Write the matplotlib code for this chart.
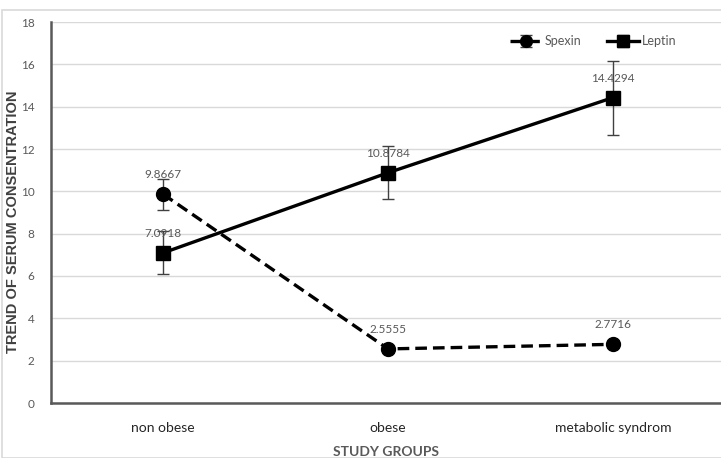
import matplotlib
matplotlib.use("Agg")
import matplotlib.pyplot as plt
from matplotlib.patches import Rectangle

categories = ["non obese", "obese", "metabolic syndrom"]
spexin = [9.8667, 2.5555, 2.7716]
spexin_err = [0.73, 0.0, 0.0]
leptin = [7.0918, 10.8784, 14.4294]
leptin_err = [1.02, 1.25, 1.75]
yticks = [0, 2, 4, 6, 8, 10, 12, 14, 16, 18]

W, H = 721, 458
fig = plt.figure(figsize=(W / 100, H / 100), dpi=100)
fig.patch.set_facecolor("white")
fig.patches.append(Rectangle((2 / W, 0), 1, 1 - 10 / H, transform=fig.transFigure,
                             fill=False, edgecolor="#d9d9d9", linewidth=1.2, zorder=0))

ax = fig.add_axes([51 / W, (H - 403) / H, (W - 51) / W, (403 - 22) / H])
x = list(range(len(categories)))

ax.errorbar(x, spexin, yerr=spexin_err, color="black", linestyle=(0, (3.5, 1.8)),
            linewidth=2.4, marker="o", markersize=10, ecolor="#404040",
            elinewidth=1, capsize=4, capthick=1, label="Spexin", zorder=3)
ax.errorbar(x, leptin, yerr=leptin_err, color="black", linestyle="-",
            linewidth=2.4, marker="s", markersize=10, ecolor="#404040",
            elinewidth=1, capsize=4, capthick=1, label="Leptin", zorder=3)

for xi, v in zip(x, spexin):
    ax.annotate(f"{v:.4f}", (xi, v), xytext=(0, 10), textcoords="offset points",
                ha="center", va="bottom", fontsize=8.5, color="#595959",
                family="Lato", zorder=4)
for xi, v in zip(x, leptin):
    ax.annotate(f"{v:.4f}", (xi, v), xytext=(0, 10), textcoords="offset points",
                ha="center", va="bottom", fontsize=8.5, color="#595959",
                family="Lato", zorder=4)

ax.set_xlim(-0.498, 2.48)
ax.set_ylim(0, 18)
ax.set_yticks(yticks)
ax.set_yticklabels([str(t) for t in yticks], fontsize=8.5, color="#595959", family="Lato")
ax.set_xticks(x)
ax.set_xticklabels(categories, fontsize=10, color="#262626", family="Lato")
ax.tick_params(axis="both", length=0)
ax.tick_params(axis="y", pad=12)
ax.tick_params(axis="x", pad=14)
ax.grid(axis="y", color="#d9d9d9", linewidth=1)
ax.set_axisbelow(True)
for s in ["top", "right"]:
    ax.spines[s].set_visible(False)
for s in ["left", "bottom"]:
    ax.spines[s].set_color("#595959")
    ax.spines[s].set_linewidth(1.8)

ax.set_ylabel("TREND OF SERUM CONSENTRATION", fontsize=10.5, fontweight="bold",
              color="#404040", family="Liberation Sans")
ax.yaxis.set_label_coords(-0.046, 0.475)
ax.set_xlabel("STUDY GROUPS", fontsize=10, fontweight="bold", color="#595959",
              family="Lato", labelpad=8)

leg = ax.legend(loc="upper right", bbox_to_anchor=(0.95, 0.995), ncol=2, frameon=False,
                handlelength=2.6, markerscale=0.85, columnspacing=2.0,
                handletextpad=0.2, prop={"family": "Lato", "size": 9})
for t in leg.get_texts():
    t.set_color("#595959")

fig.savefig("out.png", dpi=100)
